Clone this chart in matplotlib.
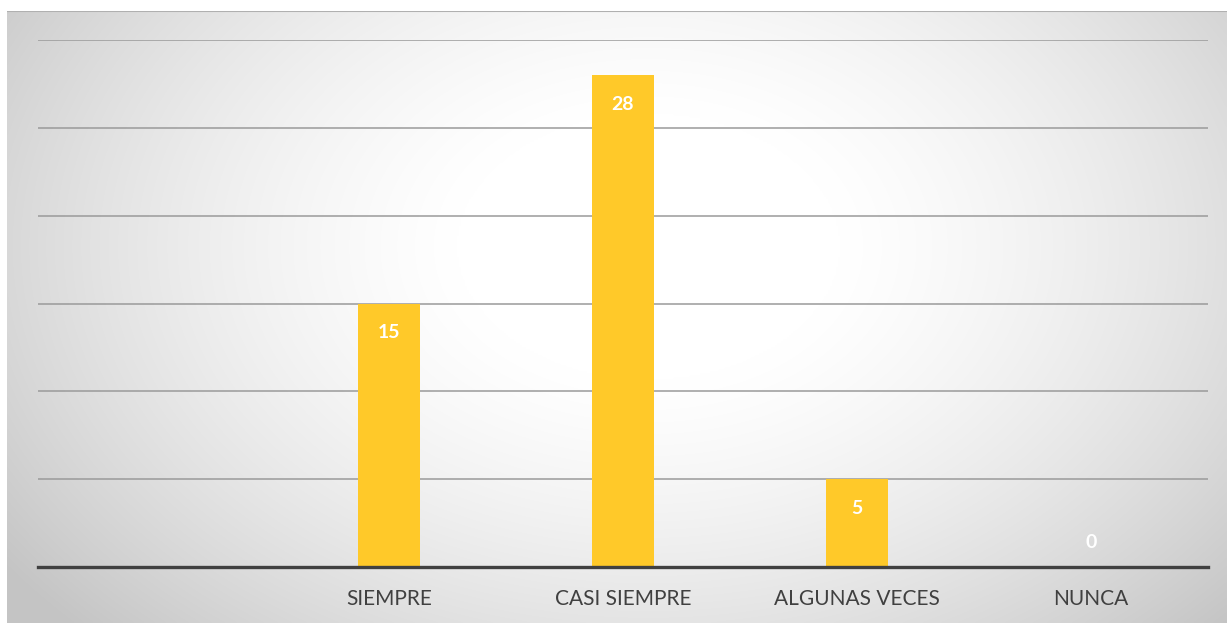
import numpy as np
import matplotlib.pyplot as plt

categories = ["", "SIEMPRE", "CASI SIEMPRE", "ALGUNAS VECES", "NUNCA"]
values = [None, 15, 28, 5, 0]

W, H = 1228, 623
fig = plt.figure(figsize=(W / 100, H / 100), dpi=100)
fig.patch.set_facecolor("white")

# radial gradient background panel
bg = fig.add_axes([7 / W, 0, (W - 8) / W, (H - 11) / H])
yy, xx = np.mgrid[0:300, 0:600]
cx, cy = 315, 115
d = np.sqrt(((xx - cx) / 430.0) ** 2 + ((yy - cy) / 300.0) ** 2)
shade = np.clip(1.02 - 0.30 * d ** 1.8, 0.77, 1.0)
img = np.dstack([shade, shade, shade])
bg.imshow(img, aspect="auto", extent=[0, 1, 0, 1], origin="upper", interpolation="bicubic")
bg.axhline(1, color="#b0b0b0", lw=1.5)
bg.set_xlim(0, 1)
bg.set_ylim(0, 1)
bg.axis("off")

ax = fig.add_axes([38 / W, (H - 567) / H, (1208 - 38) / W, (567 - 40) / H])
ax.patch.set_alpha(0)

x = np.arange(len(categories))
idx = [i for i, v in enumerate(values) if v is not None]
ax.bar([x[i] for i in idx], [values[i] for i in idx], width=0.265,
       color="#FFC929", zorder=3)

for i in idx:
    v = values[i]
    off = -21 if v > 0 else 18
    ax.annotate(str(v), (x[i], v), xytext=(0, off), textcoords="offset points",
                ha="center", va="center", color="white", fontsize=14,
                fontweight="bold", family="Lato", zorder=4)

ax.set_xlim(-0.5, len(categories) - 0.5)
ax.set_ylim(0, 30)
ax.set_yticks(np.arange(0, 31, 5))
ax.yaxis.grid(True, color="#9a9a9a", lw=1.1, zorder=0)
ax.tick_params(axis="y", left=False, labelleft=False)
ax.tick_params(axis="x", length=0, pad=16, labelsize=15, labelcolor="#404040")
ax.set_xticks(x)
ax.set_xticklabels(categories, family="Lato")
for s in ["top", "right", "left"]:
    ax.spines[s].set_visible(False)
ax.spines["bottom"].set_color("#404040")
ax.spines["bottom"].set_linewidth(2.4)
ax.spines["bottom"].set_zorder(5)

fig.savefig("out.png", dpi=100)
